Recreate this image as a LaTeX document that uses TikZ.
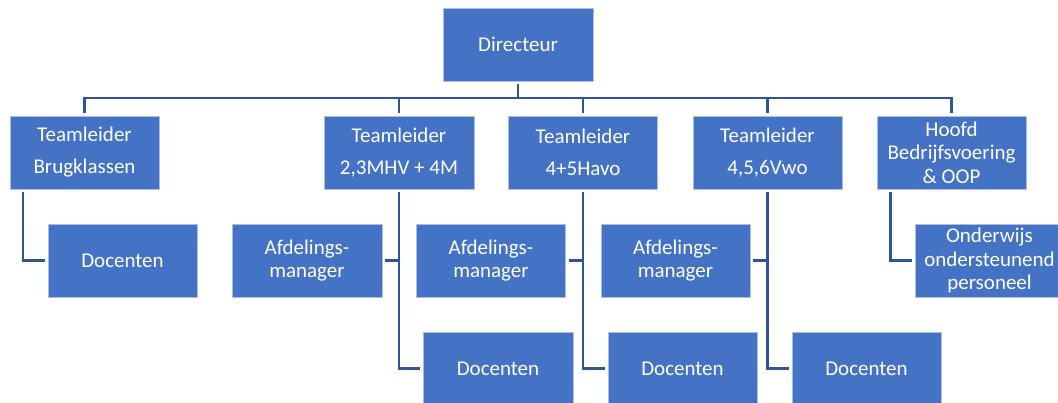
\documentclass[tikz,border=0pt]{standalone}
\usepackage{fontspec}
\setmainfont{Carlito}
\definecolor{boxblue}{HTML}{4472C4}
\definecolor{lineblue}{HTML}{2F5597}
\definecolor{edgeblue}{HTML}{A9BEE3}
\begin{document}
\begin{tikzpicture}[x=1pt,y=-1pt,
  orgbox/.style={rectangle, fill=boxblue, draw=edgeblue, line width=0.8pt, text=white, inner sep=0pt,
    minimum width=149pt, minimum height=73pt, align=center, font=\fontsize{21}{32}\selectfont},
  tight/.style={font=\fontsize{21}{23.5}\selectfont},
  conn/.style={draw=lineblue, line width=2.4pt},
  gap/.style={shorten >=3pt},
  gapstart/.style={shorten <=3pt}]
\clip (0,0) rectangle (1058,403);
\fill[white] (0,0) rectangle (1058,403);

\node[orgbox, minimum width=150pt] (dir) at (518,44.5) {Directeur};
\node[orgbox] (t1) at (84.5,152.5) {Teamleider\\Brugklassen};
\node[orgbox, minimum width=150pt] (t2) at (399,152.5) {Teamleider\\2,3MHV + 4M};
\node[orgbox] (t3) at (583,152.5) {Teamleider\\4+5Havo};
\node[orgbox] (t4) at (767.5,152.5) {Teamleider\\4,5,6Vwo};
\node[orgbox, tight] (t5) at (951.5,152.5) {Hoofd\\Bedrijfsvoering\\\& OOP};
\node[orgbox] (d1) at (122.5,260.5) {Docenten};
\node[orgbox, tight, minimum width=150pt] (a2) at (307,260.5) {Afdelings-\\manager};
\node[orgbox, tight] (a3) at (491,260.5) {Afdelings-\\manager};
\node[orgbox, tight] (a4) at (675.5,260.5) {Afdelings-\\manager};
\node[orgbox, tight] (o5) at (989.5,260.5) {Onderwijs\\ondersteunend\\personeel};
\node[orgbox, minimum width=150pt] (e2) at (498,368.5) {Docenten};
\node[orgbox] (e3) at (682.5,368.5) {Docenten};
\node[orgbox] (e4) at (866.5,368.5) {Docenten};

\coordinate (bus) at (518,98);
\draw[conn, gapstart] (dir.south) -- (bus);
\draw[conn, gapstart, gap] (t1.north) -- (t1.north |- bus) -- (t5.north |- bus) -- (t5.north);
\foreach \t in {t2,t3,t4} \draw[conn, gap] (\t.north |- bus) -- (\t.north);

\draw[conn, gapstart, gap] ([xshift=13.5pt]t1.south west) |- (d1.west);
\draw[conn, gapstart, gap] ([xshift=14pt]t5.south west) |- (o5.west);

\draw[conn, gapstart, gap] (t2.south) |- (e2.west);
\draw[conn, gap] (t2.south |- a2.east) -- (a2.east);
\draw[conn, gapstart, gap] (t3.south) |- (e3.west);
\draw[conn, gap] (t3.south |- a3.east) -- (a3.east);
\draw[conn, gapstart, gap] (t4.south) |- (e4.west);
\draw[conn, gap] (t4.south |- a4.east) -- (a4.east);
\end{tikzpicture}
\end{document}
